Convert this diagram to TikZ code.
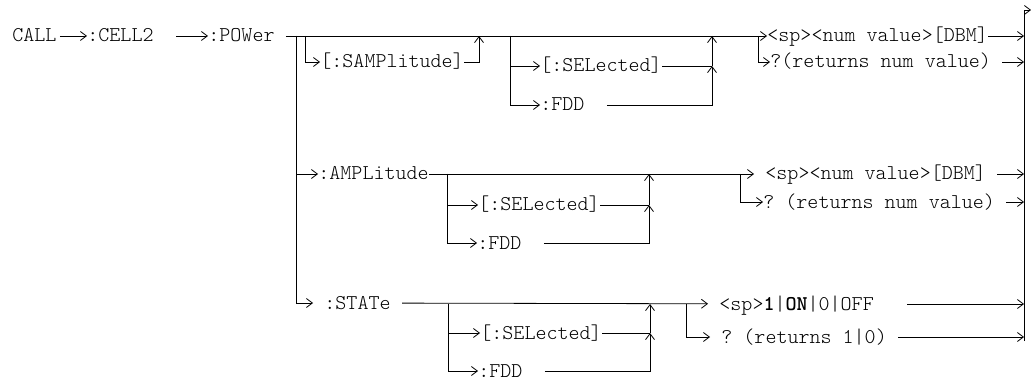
\documentclass[tikz,border=0pt]{standalone}
\usepackage{fontspec}
\setmonofont{Latin Modern Mono Light}
\usepackage{tikz}
\usetikzlibrary{arrows.meta,calc}
\tikzstyle{line} = [draw, -{Straight Barb[length=3pt,width=4.5pt]}]
\tikzstyle{cmd} = [anchor=west, inner sep=0pt, text height=6pt, text depth=0pt, font=\ttfamily\fontsize{10.5}{12}\selectfont]

\begin{document}
\begin{tikzpicture}[x=0.5pt, y=-0.5pt]
        \useasboundingbox (0,0) rectangle (1031,379);
        \node[cmd] (call) at (12,36) {CALL};
        \node[cmd] (cell2) at (87,36) {:CELL2~~\null};
        \node[cmd] (power) at (208,36) {:POWer~\null};
        \node[cmd] (samp) at (320,62) {[:SAMPlitude]};
        \node[cmd] (sel1) at (540,66) {[:SELected]};
        \node[cmd] (fdd1) at (540,105) {:FDD~~\null};
        \node[cmd] (val1) at (767,36) {<sp><num value>[DBM]};
        \node[cmd] (ret1) at (770,62) {?(returns num value)~\null};
        \node[cmd] (amp) at (318,174) {:AMPLitude};
        \node[cmd] (sel2) at (478,205) {[:SELected]};
        \node[cmd] (fdd2) at (477,243) {:FDD~~\null};
        \node[cmd] (val2) at (754,174) {~<sp><num value>[DBM]~\null};
        \node[cmd] (ret2) at (763,202) {? (returns num value)~\null};
        \node[cmd] (state) at (313,303) {~:STATe~\null};
        \node[cmd] (sel3) at (480,333) {[:SELected]};
        \node[cmd] (fdd3) at (478,371) {:FDD~~\null};
        \node[cmd] (val3) at (708,304) {~<sp>\textbf{1}|\textbf{ON}|0|OFF~~~\null};
        \node[cmd] (ret3) at (710,337) {~? (returns 1|0)~\null};
        \coordinate (m0) at (296,36);
        \coordinate (s0) at (305,36);
        \coordinate (s1) at (479,36);
        \coordinate (g0) at (510,36);
        \coordinate (g1) at (712,66);
        \coordinate (g2) at (712,36);
        \coordinate (b0) at (758,36);
        \coordinate (h0) at (447,174);
        \coordinate (h1) at (649,205);
        \coordinate (h2) at (649,174);
        \coordinate (h3) at (740,174);
        \coordinate (k0) at (448,304);
        \coordinate (k1) at (650,333);
        \coordinate (k2) at (650,304);
        \coordinate (k3) at (686,304);
        \coordinate (r0) at (1024,10);
        \coordinate (r1) at (1024,341);
        \coordinate (rout) at (1031,10);
        \path[line, shorten <=1.5pt] (call) -- (cell2);
        \path[line] (cell2) -- (power);
        \path[line] (power) -- (val1);
        \path[line] (m0) |- (amp);
        \path[line] (m0) |- (state);
        \path[line] (s0) |- (samp);
        \path[line] (samp) -| (s1);
        \path[line] (g0) |- (sel1);
        \path[line] (g0) |- (fdd1);
        \draw (sel1) -- (g1);
        \path[line] (fdd1) -| (g1);
        \path[line] (g1) -- (g2);
        \path[line] (b0) |- (ret1);
        \path[line] (val1) -- (val1 -| r0);
        \path[line] (ret1) -- (ret1 -| r0);
        \path[line] (amp) -- (val2);
        \path[line] (h0) |- (sel2);
        \path[line] (h0) |- (fdd2);
        \draw (sel2) -- (h1);
        \path[line] (fdd2) -| (h1);
        \path[line] (h1) -- (h2);
        \path[line] (h3) |- (ret2);
        \path[line] (val2) -- (val2 -| r0);
        \path[line] (ret2) -- (ret2 -| r0);
        \path[line] (state) -- (val3);
        \path[line] (k0) |- (sel3);
        \path[line] (k0) |- (fdd3);
        \draw (sel3) -- (k1);
        \path[line] (fdd3) -| (k1);
        \path[line] (k1) -- (k2);
        \path[line] (k3) |- (ret3);
        \path[line] (val3) -- (val3 -| r0);
        \path[line] (ret3) -- (ret3 -| r0);
        \path[line] (r1) |- (rout);
    \end{tikzpicture}
\end{document}
